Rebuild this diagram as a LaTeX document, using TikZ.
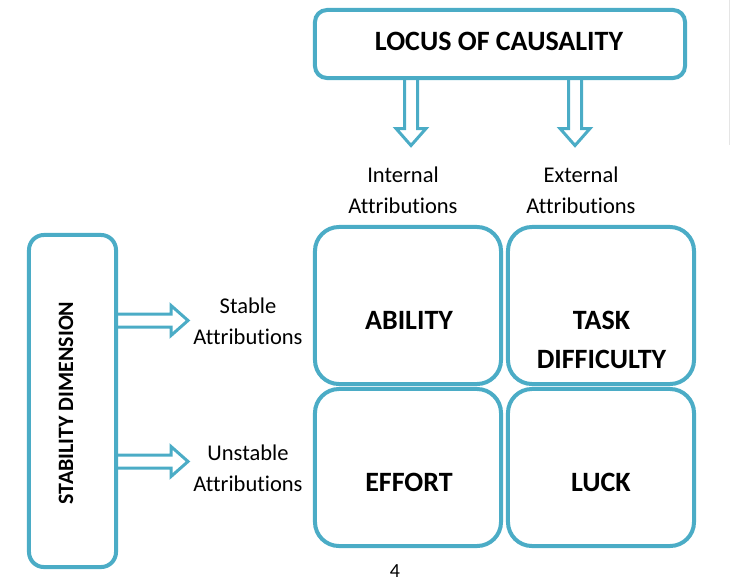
\documentclass[tikz,border=0pt]{standalone}
\usepackage{fontspec}
\setmainfont[Ligatures={NoCommon,NoContextual}]{Carlito}
\usepackage[dvipsnames]{xcolor}
\usetikzlibrary{calc}

\definecolor{aqua}{RGB}{75,172,198}

\tikzset{
  frame/.style={draw=aqua, line width=0.1cm, rounded corners=0.3cm},
  cell/.style={draw=aqua, line width=0.1cm, rounded corners=0.6cm,
    minimum width=4.65cm, minimum height=3.925cm, inner sep=0pt},
  hollow/.style={draw=aqua, line width=0.075cm, line join=miter},
  head/.style={font=\fontsize{19.9}{23}\selectfont\bfseries, align=center},
  attr/.style={font=\fontsize{16}{22}\selectfont, align=center}
}

\begin{document}
\begin{tikzpicture}[x=0.025cm, y=-0.025cm]
    \useasboundingbox (0,0) rectangle (730,581);
    \draw[black!10, line width=0.02cm] (729,0) -- (729,145);

    % top box
    \node[frame, minimum width=9.25cm, minimum height=1.7cm] (locus) at (500,44) {};
    \node[head] (locustext) at (499,41) {LOCUS OF CAUSALITY};

    % left box
    \node[frame, rounded corners=0.375cm, minimum width=2.175cm, minimum height=8.3cm] (stab) at (72.5,401) {};
    \node[head, font=\fontsize{15.6}{18}\selectfont\bfseries, rotate=90] (stabtext) at (66,403) {STABILITY DIMENSION};

    % the four cells
    \node[cell] (ability) at (408,305.5) {};
    \node[cell] (task) at (601,305.5) {};
    \node[cell] (effort) at (408,467.5) {};
    \node[cell] (luck) at (601,467.5) {};
    \node[head] at (409,320.5) {ABILITY};
    \node[head, text depth=0pt] at (601.5,339.5) {TASK\\[0.17cm]DIFFICULTY};
    \node[head] at (409,482) {EFFORT};
    \node[head] at (601,482) {LUCK};

    % labels
    \node[attr] (intl) at (403,190) {Internal\\Attributions};
    \node[attr] (extl) at (581,190) {External\\Attributions};
    \node[attr] (stbl) at (248,321) {Stable\\Attributions};
    \node[attr] (unst) at (248,468) {Unstable\\Attributions};
    \node[font=\fontsize{14.2}{17}\selectfont, inner sep=0pt] (page) at (395,571) {4};

    % hollow arrows
    \coordinate (d1) at (locus.south -| 411,0);
    \coordinate (d2) at (locus.south -| 575,0);
    \draw[hollow] (d1) ++(-6.5,-1) -- ++(0,49.5) -- ++(-8.5,0) -- ++(15,17) -- ++(15,-17) -- ++(-8.5,0) -- ++(0,-49.5);
    \draw[hollow] (d2) ++(-6.5,-1) -- ++(0,49.5) -- ++(-8.5,0) -- ++(15,17) -- ++(15,-17) -- ++(-8.5,0) -- ++(0,-49.5);
    \coordinate (r1) at (stab.east |- 0,320.5);
    \coordinate (r2) at (stab.east |- 0,461.5);
    \draw[hollow] (r1) ++(-1,-6.5) -- ++(54,0) -- ++(0,-8.5) -- ++(17,15) -- ++(-17,15) -- ++(0,-8.5) -- ++(-54,0);
    \draw[hollow] (r2) ++(-1,-6.5) -- ++(54,0) -- ++(0,-8.5) -- ++(17,15) -- ++(-17,15) -- ++(0,-8.5) -- ++(-54,0);
\end{tikzpicture}
\end{document}
